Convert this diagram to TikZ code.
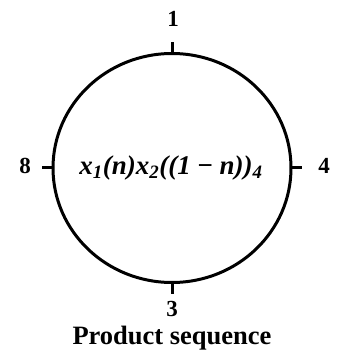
\documentclass[tikz,border=0pt]{standalone}
\usepackage{fontspec}
\setmainfont{Liberation Serif}
\usetikzlibrary{shapes.geometric}
\newcommand\mysub[1]{\textsubscript{#1}}
\begin{document}
\begin{tikzpicture}[x=1pt,y=-1pt,
  ring/.style={draw, ellipse, line width=3pt, minimum width=238pt, minimum height=229pt, inner sep=0pt, outer sep=0pt},
  tickline/.style={line width=3pt},
  lab/.style={font=\fontsize{23}{25}\selectfont\bfseries, inner sep=0pt},
  captext/.style={font=\fontsize{26.5}{28}\selectfont\bfseries, inner sep=0pt}]
\useasboundingbox (0,0) rectangle (340,363);
\node[ring] (c) at (172,168) {};
\node[font=\fontsize{27}{29}\selectfont\bfseries\itshape, inner sep=0pt] (e) at (171,168)
  {x\mysub{1}(n)x\mysub{2}((1 \textup{−} n))\mysub{4}};
\coordinate (tn) at ([yshift=11pt]c.north);
\coordinate (ts) at ([yshift=-11pt]c.south);
\coordinate (tw) at ([xshift=-11pt]c.west);
\coordinate (te) at ([xshift=11pt]c.east);
\draw[tickline] (c.north) -- (tn);
\draw[tickline] (c.south) -- (ts);
\draw[tickline] (c.west) -- (tw);
\draw[tickline] (c.east) -- (te);
\node[lab] (l1) at (173,19) {1};
\node[lab] (l8) at (25,166) {8};
\node[lab] (l4) at (324,166) {4};
\node[lab] (l3) at (172,309) {3};
\node[captext] (t) at (172,338) {Product sequence};
\end{tikzpicture}
\end{document}
